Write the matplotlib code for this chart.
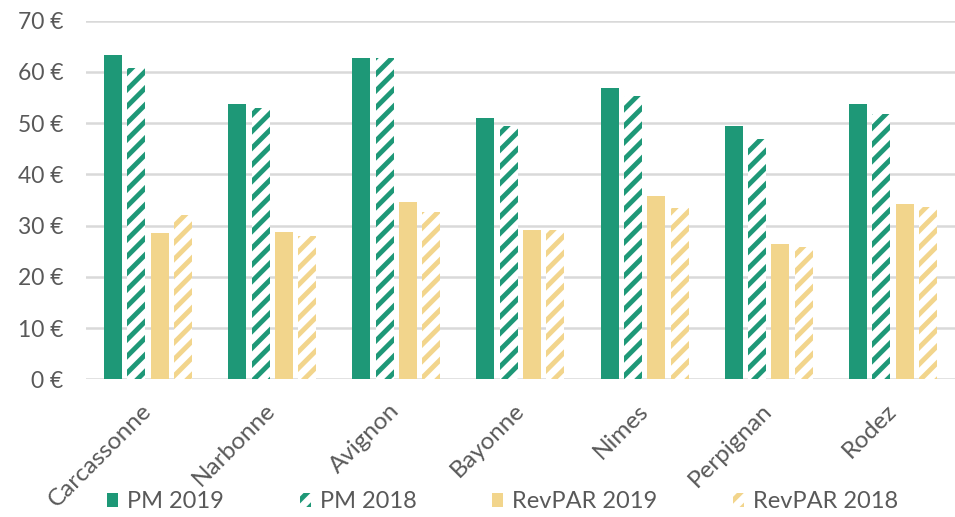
import matplotlib
matplotlib.use("Agg")
import matplotlib.pyplot as plt
import numpy as np

villes = ["Carcassonne", "Narbonne", "Avignon", "Bayonne", "Nimes", "Perpignan", "Rodez"]
pm_2019 = [63.4, 53.7, 62.7, 51.0, 56.8, 49.4, 53.7]
pm_2018 = [60.7, 53.0, 62.8, 49.4, 55.3, 47.0, 51.8]
revpar_2019 = [28.5, 28.8, 34.7, 29.2, 35.8, 26.5, 34.3]
revpar_2018 = [32.1, 28.0, 32.7, 29.2, 33.5, 25.9, 33.6]
series_labels = ["PM 2019", "PM 2018", "RevPAR 2019", "RevPAR 2018"]
yticks = [0, 10, 20, 30, 40, 50, 60, 70]

VERT = "#1e9877"
JAUNE = "#f2d58c"
GRIS = "#595959"

plt.rcParams["font.family"] = ["Lato", "DejaVu Sans"]
plt.rcParams["hatch.linewidth"] = 3.5

fig = plt.figure(figsize=(9.55, 5.17), dpi=100)
ax = fig.add_axes([0.09, 0.2663, 0.91, 0.6936])

x = np.arange(len(villes))
largeur = 0.145
pas = 0.188

series = [pm_2019, pm_2018, revpar_2019, revpar_2018]
couleurs = [VERT, VERT, JAUNE, JAUNE]
hachures = [None, True, None, True]

for i, (vals, coul, hach) in enumerate(zip(series, couleurs, hachures)):
    pos = x + (i - 1.5) * pas
    if hach:
        ax.bar(pos, vals, largeur, facecolor="white", edgecolor=coul,
               hatch="//", linewidth=0, label=series_labels[i], zorder=3)
    else:
        ax.bar(pos, vals, largeur, color=coul, linewidth=0,
               label=series_labels[i], zorder=3)

ax.set_xlim(-0.5, len(villes) - 0.5)
ax.set_ylim(0, 70)
ax.set_yticks(yticks)
ax.set_yticklabels([f"{v} €" for v in yticks], fontsize=16.5, color=GRIS)
ax.yaxis.grid(True, color="#d9d9d9", linewidth=1.8, zorder=0)
ax.set_axisbelow(True)
for s in ax.spines.values():
    s.set_visible(False)
ax.tick_params(axis="y", length=0, pad=16)

ax.set_xticks(x)
ax.set_xticklabels(villes, fontsize=17.5, color=GRIS, rotation=45,
                   ha="right", va="center", rotation_mode="anchor")
ax.tick_params(axis="x", length=0, pad=20)

leg = fig.legend(loc="center left", bbox_to_anchor=(107 / 955, 1 - 502 / 517), ncol=4,
                 frameon=False, fontsize=17, handlelength=0.47, handleheight=0.5,
                 handletextpad=0.38, columnspacing=3.2, labelcolor=GRIS,
                 borderpad=0, borderaxespad=0)

fig.savefig("out.png", dpi=100)
